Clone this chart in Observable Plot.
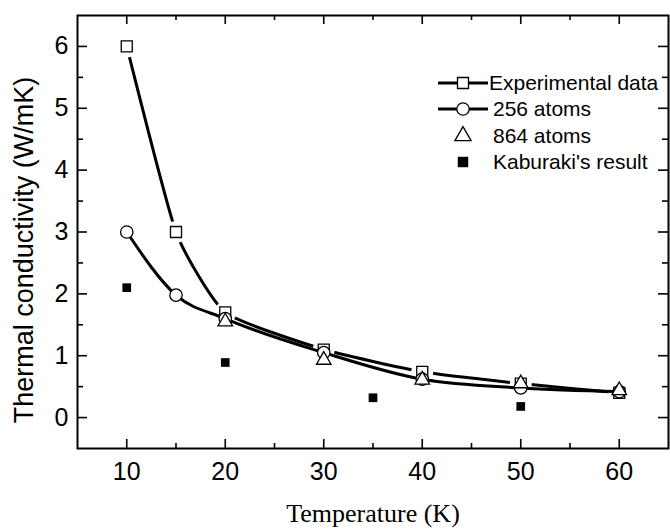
<!DOCTYPE html>
<html><head><meta charset="utf-8">
<script src="https://cdn.jsdelivr.net/npm/d3@7"></script>
<script src="https://cdn.jsdelivr.net/npm/@observablehq/plot@0.6"></script>
<style>body{margin:0;background:#fff}#chart{width:670px;height:532px}</style>
</head><body><div id="chart"></div>
<script>
const temps = [10, 15, 20, 30, 40, 50, 60];
const experimental = [6.0, 3.0, 1.7, 1.1, 0.74, 0.55, 0.40];
const atoms256 = [3.0, 1.98, 1.6, 1.05, 0.62, 0.48, 0.42];
const temps864 = [20, 30, 40, 50, 60];
const atoms864 = [1.55, 0.93, 0.61, 0.55, 0.44];
const tempsKab = [10, 20, 35, 50];
const kaburaki = [2.1, 0.89, 0.32, 0.18];
const xTicks = [10, 20, 30, 40, 50, 60];
const xMinor = [15, 25, 35, 45, 55];
const yTicks = [0, 1, 2, 3, 4, 5, 6];
const yMinor = [0.5, 1.5, 2.5, 3.5, 4.5, 5.5];
const seriesNames = ["Experimental data", "256 atoms", "864 atoms", "Kaburaki's result"];
const xTitle = "Temperature (K)";
const yTitle = "Thermal conductivity (W/mK)";

const expData = temps.map((t, i) => ({t, k: experimental[i]}));
const d256 = temps.map((t, i) => ({t, k: atoms256[i]}));
const d864 = temps864.map((t, i) => ({t, k: atoms864[i]}));
const dKab = tempsKab.map((t, i) => ({t, k: kaburaki[i]}));

const sans = "'Liberation Sans', Arial, Helvetica, sans-serif";
const serif = "'Liberation Serif', 'Times New Roman', serif";
const R = {square: 6.2, circle: 6.2, triangle: 5.4, filled: 4.9};

const W = 670, H = 532, mL = 77, mR = 2, mT = 15, mB = 84;
const innerW = W - mL - mR, innerH = H - mT - mB;
const tickStyle = {stroke: "black", strokeWidth: 1.6};

const chart = Plot.plot({
  width: W, height: H,
  marginLeft: mL, marginRight: mR, marginTop: mT, marginBottom: mB,
  style: {fontFamily: sans, background: "white", color: "black"},
  x: {domain: [5, 65]},
  y: {domain: [-0.5, 6.5]},
  marks: [
    // tick labels
    Plot.axisX(xTicks, {tickSize: 0, tickPadding: 14, fontSize: 25, label: null, tickFormat: d => String(d)}),
    Plot.axisY(yTicks, {tickSize: 0, tickPadding: 9, fontSize: 25, label: null, tickFormat: d => String(d)}),
    // inside ticks (bottom, top, left, right)
    Plot.tickX(xTicks, {x: d => d, insetTop: innerH - 9, ...tickStyle}),
    Plot.tickX(xMinor, {x: d => d, insetTop: innerH - 5, ...tickStyle}),
    Plot.tickX(xTicks, {x: d => d, insetBottom: innerH - 9, ...tickStyle}),
    Plot.tickX(xMinor, {x: d => d, insetBottom: innerH - 5, ...tickStyle}),
    Plot.tickY(yTicks, {y: d => d, insetRight: innerW - 10, ...tickStyle}),
    Plot.tickY(yMinor, {y: d => d, insetRight: innerW - 6, ...tickStyle}),
    Plot.tickY(yTicks, {y: d => d, insetLeft: innerW - 10, ...tickStyle}),
    Plot.tickY(yMinor, {y: d => d, insetLeft: innerW - 6, ...tickStyle}),
    Plot.frame({stroke: "black", strokeWidth: 2}),
    // experimental curve with gaps around markers
    Plot.line(expData, {x: "t", y: "k", curve: "cardinal", tension: 0.5, stroke: "black", strokeWidth: 3}),
    Plot.dot(expData, {x: "t", y: "k", symbol: "circle", r: 11, fill: "white", stroke: "none"}),
    // 256 atoms curve
    Plot.line(d256, {x: "t", y: "k", curve: "monotone-x", stroke: "black", strokeWidth: 3}),
    // markers
    Plot.dot(expData, {x: "t", y: "k", symbol: "square", r: R.square, fill: "white", stroke: "black", strokeWidth: 1.3}),
    Plot.dot(d256, {x: "t", y: "k", symbol: "circle", r: R.circle, fill: "white", stroke: "black", strokeWidth: 1.3}),
    Plot.dot(d864, {x: "t", y: "k", symbol: "triangle", r: R.triangle, fill: "white", stroke: "black", strokeWidth: 1.3}),
    Plot.dot(dKab, {x: "t", y: "k", symbol: "square", r: R.filled, fill: "black", stroke: "none"}),
    // axis titles
    Plot.text([xTitle], {frameAnchor: "bottom", dy: 65, fontSize: 26, fontFamily: serif, textAnchor: "middle", lineAnchor: "middle", fill: "black"}),
    Plot.text([yTitle], {frameAnchor: "left", dx: -53, dy: 18, rotate: -90, fontSize: 27, textAnchor: "middle", lineAnchor: "middle", fill: "black"})
  ]
});
document.getElementById("chart").appendChild(chart);

// legend
const svg = d3.select(chart);
const lg = svg.append("g").attr("font-family", sans).attr("font-size", 21).attr("text-anchor", "start");
const rowsY = [83, 109, 136, 162];
const symbols = [d3.symbolSquare, d3.symbolCircle, d3.symbolTriangle, d3.symbolSquare];
const radii = [R.square, R.circle, R.triangle + 0.6, R.filled + 1];
const hasLine = [true, true, false, false];
const textX = [489, 493, 493, 493];
seriesNames.forEach((name, i) => {
  const y = rowsY[i];
  if (hasLine[i]) {
    lg.append("line").attr("x1", 438).attr("x2", 488).attr("y1", y).attr("y2", y)
      .attr("stroke", "black").attr("stroke-width", 3);
  }
  lg.append("path")
    .attr("d", d3.symbol(symbols[i], Math.PI * radii[i] * radii[i])())
    .attr("transform", `translate(463,${y})`)
    .attr("fill", i === 3 ? "black" : "white")
    .attr("stroke", i === 3 ? "none" : "black")
    .attr("stroke-width", 1.3);
  lg.append("text").attr("x", textX[i]).attr("y", y).attr("dy", "0.35em")
    .attr("fill", "black").text(name);
});
</script>
</body></html>
